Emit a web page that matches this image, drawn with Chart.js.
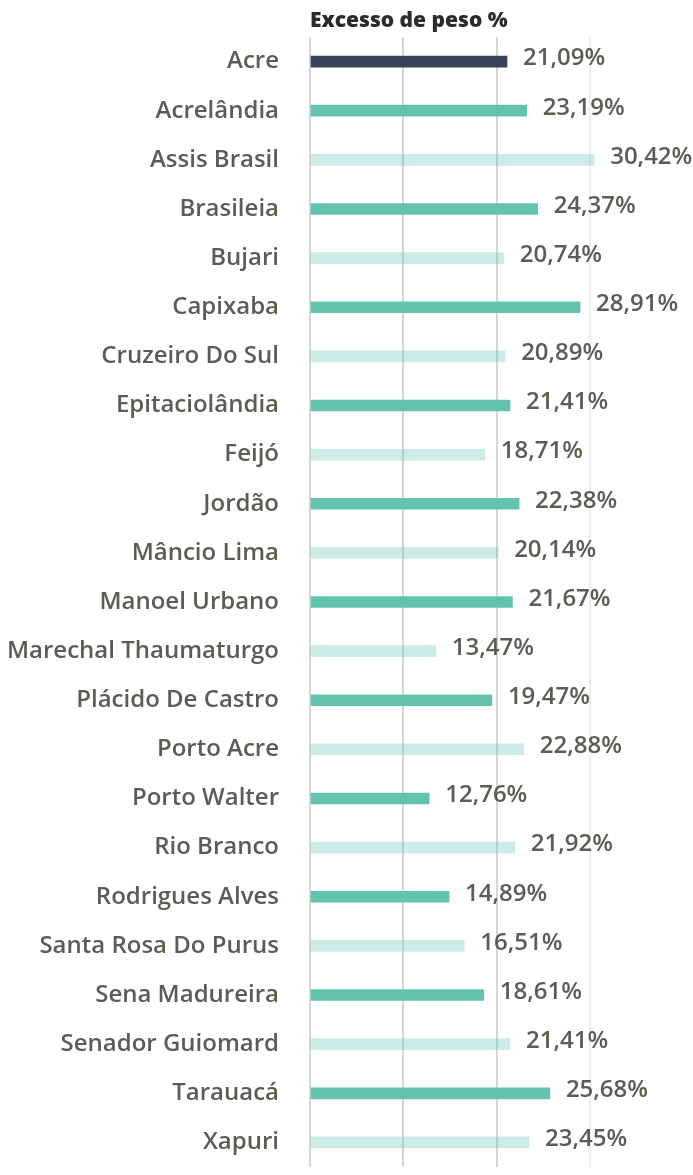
<!DOCTYPE html>
<html>
<head>
<meta charset="utf-8">
<script src="https://cdn.jsdelivr.net/npm/chart.js@4.4.1/dist/chart.umd.min.js"></script>
<style>
  html, body { margin: 0; padding: 0; background: #fff; }
  #wrap { width: 693px; height: 1175px; }
</style>
</head>
<body>
<div id="wrap"><canvas id="excesso"></canvas></div>
<script>
// municipios do Acre, excesso de peso (%)
const municipios = ['Acre', 'Acrelândia', 'Assis Brasil', 'Brasileia', 'Bujari', 'Capixaba',
  'Cruzeiro Do Sul', 'Epitaciolândia', 'Feijó', 'Jordão', 'Mâncio Lima', 'Manoel Urbano',
  'Marechal Thaumaturgo', 'Plácido De Castro', 'Porto Acre', 'Porto Walter', 'Rio Branco',
  'Rodrigues Alves', 'Santa Rosa Do Purus', 'Sena Madureira', 'Senador Guiomard', 'Tarauacá', 'Xapuri'];
const excesso = [21.09, 23.19, 30.42, 24.37, 20.74, 28.91, 20.89, 21.41, 18.71, 22.38, 20.14, 21.67,
  13.47, 19.47, 22.88, 12.76, 21.92, 14.89, 16.51, 18.61, 21.41, 25.68, 23.45];
const titulo = 'Excesso de peso %';

const corEstado = '#3a4459';
const corPar = '#63c3ae';
const corImpar = 'rgba(99, 195, 174, 0.32)';
const cores = excesso.map((v, i) => i === 0 ? corEstado : (i % 2 === 1 ? corPar : corImpar));

const fonte = "'Open Sans', sans-serif";
const cinzaTexto = '#5d5b52';

// valor ao lado de cada barra
const rotulos = {
  id: 'rotulos',
  afterDatasetsDraw(chart) {
    const ctx = chart.ctx;
    const meta = chart.getDatasetMeta(0);
    ctx.save();
    ctx.font = '600 24px ' + fonte;
    ctx.fillStyle = cinzaTexto;
    ctx.textBaseline = 'middle';
    ctx.textAlign = 'left';
    meta.data.forEach((bar, i) => {
      const txt = excesso[i].toFixed(2).replace('.', ',') + '%';
      ctx.fillText(txt, bar.x + 16, bar.y - 3);
    });
    ctx.restore();
  }
};

// titulo alinhado com o inicio das barras
const tituloPlugin = {
  id: 'tituloPlugin',
  afterDraw(chart) {
    const ctx = chart.ctx;
    ctx.save();
    ctx.font = '800 21px ' + fonte;
    ctx.fillStyle = '#2b2b2b';
    ctx.textBaseline = 'middle';
    ctx.fillText(titulo, chart.chartArea.left, 21);
    ctx.restore();
  }
};

new Chart(document.getElementById('excesso'), {
  type: 'bar',
  data: {
    labels: municipios,
    datasets: [{
      data: excesso,
      backgroundColor: cores,
      barThickness: 11
    }]
  },
  options: {
    indexAxis: 'y',
    responsive: true,
    maintainAspectRatio: false,
    animation: false,
    layout: { padding: { top: 37, bottom: 8, left: 0, right: 0 } },
    plugins: {
      legend: { display: false },
      tooltip: { enabled: false }
    },
    scales: {
      x: {
        min: 0,
        max: 41,
        afterFit: (scale) => { scale.height = 0; },
        ticks: { display: false, stepSize: 10 },
        border: { display: false },
        grid: {
          drawTicks: false,
          lineWidth: 2,
          color: (c) => {
            const v = c.tick ? c.tick.value : 0;
            if (v === 30) return '#eeeeee';
            if (v > 30) return 'rgba(0,0,0,0)';
            return '#d6d6d6';
          }
        }
      },
      y: {
        grid: { display: false, drawTicks: false },
        border: { display: false },
        afterFit: (scale) => {
          scale.width = 310;
          scale.paddingTop = 0;
          scale.paddingBottom = 0;
        },
        ticks: {
          padding: 31,
          color: cinzaTexto,
          font: { family: fonte, size: 24, weight: '600' }
        }
      }
    }
  },
  plugins: [rotulos, tituloPlugin]
});
</script>
</body>
</html>
